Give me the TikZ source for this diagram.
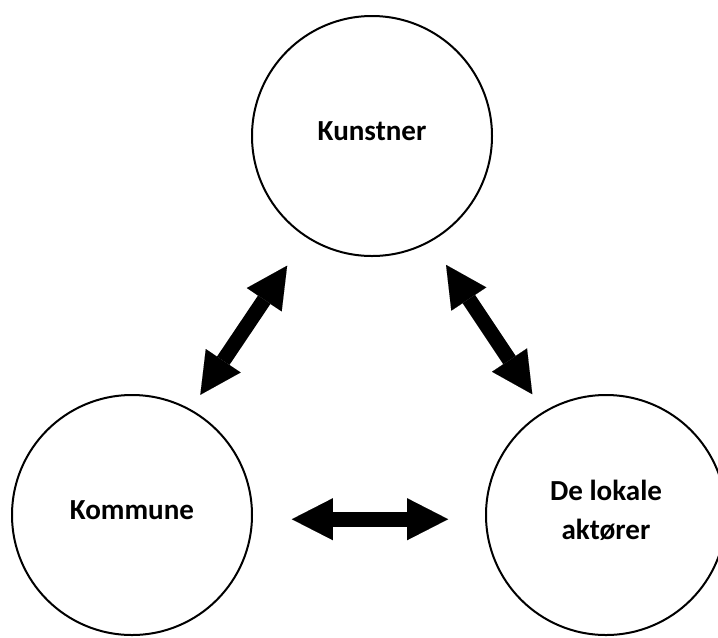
\documentclass[tikz,border=0pt]{standalone}
\usepackage{fontspec}
\setmainfont{Carlito}
\usetikzlibrary{arrows.meta}

\begin{document}
\begin{tikzpicture}[x=0.75pt,y=-0.75pt,
    party/.style={draw,circle,line width=1.5pt,minimum size=180pt,inner sep=0pt,
      align=center,text depth=8pt,font=\bfseries\fontsize{21.8}{29.25}\selectfont},
    link/.style={line width=11.25pt,
      {Triangle[length=30.75pt,width=31.5pt,line width=0.01pt]}-{Triangle[length=30.75pt,width=31.5pt,line width=0.01pt]}}]
    \useasboundingbox (0,0) rectangle (718,637);
    \node[party] (kunstner) at (372,136) {Kunstner};
    \node[party] (kommune) at (132,515) {Kommune};
    \node[party] (aktorer) at (606,515) {De lokale\\akt\o rer};
    \draw[link,shorten <=13pt,shorten >=25.5pt] (kommune.61) -- (kunstner.237);
    \draw[link,shorten <=20.8pt,shorten >=15.4pt] (kunstner.299) -- (aktorer.121);
    \draw[link,shorten <=29.25pt,shorten >=27.75pt] (kommune.-2) -- (aktorer.182);
\end{tikzpicture}
\end{document}
